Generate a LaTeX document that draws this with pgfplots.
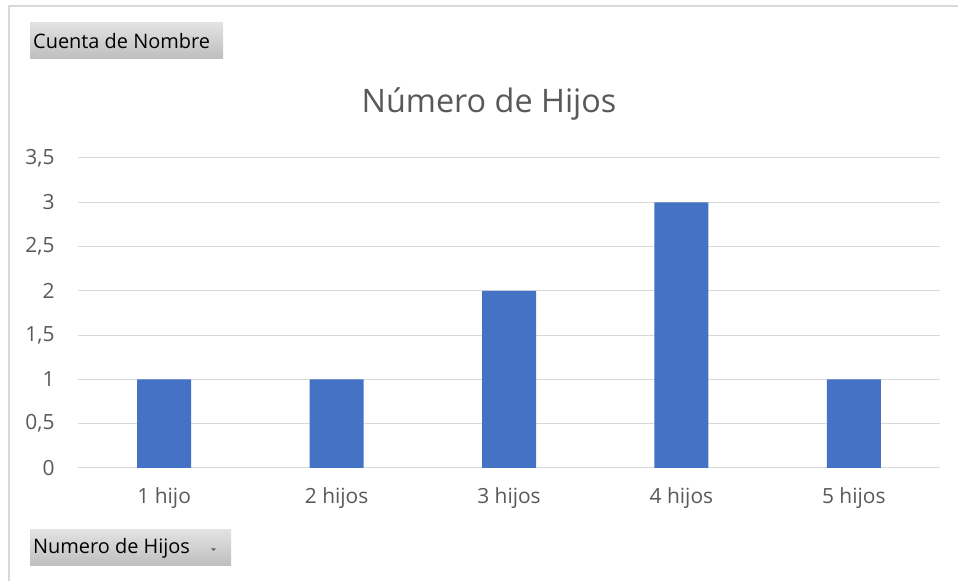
\documentclass[border=0pt]{standalone}
\usepackage{pgfplots}
\pgfplotsset{compat=1.18}
\usepackage{fontspec}
\setmainfont{Open Sans}
\definecolor{barblue}{HTML}{4472C4}
\definecolor{gridgray}{HTML}{D9D9D9}
\definecolor{labgray}{HTML}{595959}
\definecolor{btntop}{HTML}{E2E2E2}
\definecolor{btnbot}{HTML}{BEBEBE}
\begin{document}
\begin{tikzpicture}[x=1bp,y=1bp]
\path[use as bounding box] (0,0) rectangle (958,581);
\fill[white] (0,0) rectangle (958,581);
% outer frame (top and left)
\draw[gridgray,line width=1.5bp] (9,0) -- (9,575) -- (958,575);
% buttons
\shade[top color=btntop,bottom color=btnbot] (30,581-59) rectangle (223,581-23);
\node[anchor=west,font=\fontsize{20}{22}\selectfont,inner sep=0pt] at (33,581-41) {Cuenta de Nombre};
\shade[top color=btntop,bottom color=btnbot] (30,581-566) rectangle (231,581-530);
\node[anchor=west,font=\fontsize{20}{22}\selectfont,inner sep=0pt] at (33,581-548) {Numero de Hijos};
\fill[labgray] (211,581-548.5) -- (216,581-548.5) -- (213.5,581-551) -- cycle;
% title
\node[font=\fontsize{32.5}{36}\selectfont,text=labgray] at (489,581-104) {Número de Hijos};
\begin{axis}[
  at={(78bp,113bp)}, anchor=south west,
  scale only axis, width=862bp, height=310bp,
  xmin=-0.5, xmax=4.5, ymin=0, ymax=3.5,
  ytick={0,0.5,...,3.5},
  xtick={0,1,2,3,4},
  xticklabels={1 hijo,2 hijos,3 hijos,4 hijos,5 hijos},
  /pgf/number format/assume math mode=true,
  /pgf/number format/use comma,
  /pgf/number format/.cd, fixed, 1000 sep={},
  /pgfplots/.cd,
  ymajorgrids, grid style={gridgray,line width=1bp},
  axis line style={draw=none},
  major tick length=0pt,
  tick label style={font=\fontsize{21}{24}\selectfont,text=labgray},
  yticklabel style={xshift=-20bp},
  xticklabel style={yshift=-16bp},
  clip=false,
]
\draw[gridgray,line width=1bp] (axis cs:-0.5,0) -- (axis cs:4.5,0);
\addplot[ybar, bar width=54bp, fill=barblue, draw=none] coordinates {(0,1) (1,1) (2,2) (3,3) (4,1)};
\end{axis}
\end{tikzpicture}
\end{document}
